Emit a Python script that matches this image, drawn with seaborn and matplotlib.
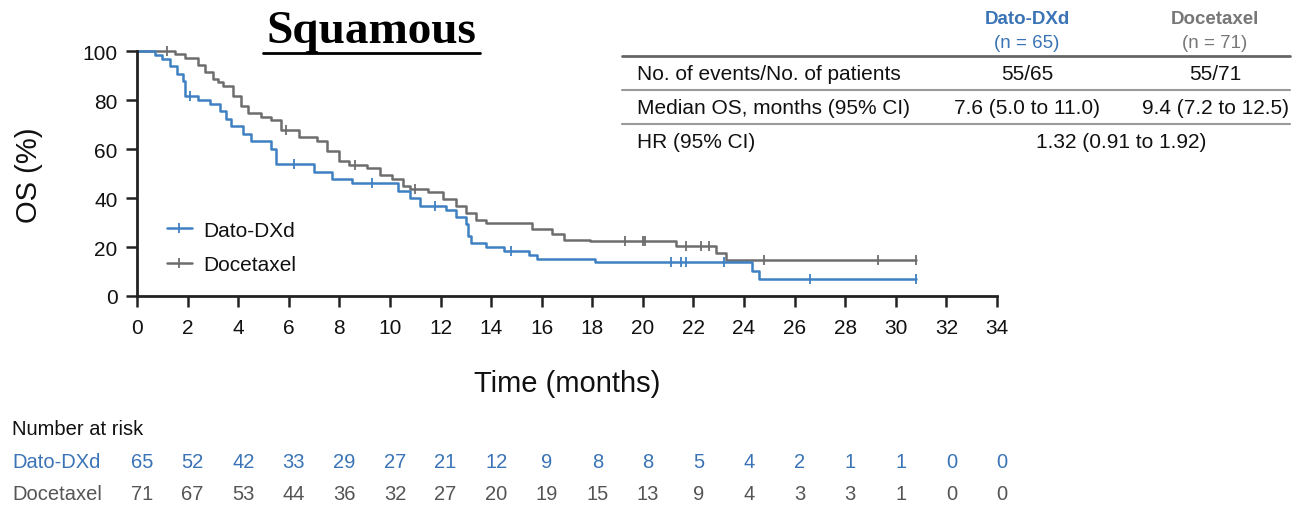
import matplotlib
matplotlib.use("Agg")
import matplotlib.pyplot as plt
import seaborn as sns
import pandas as pd
from matplotlib.lines import Line2D
from matplotlib.transforms import blended_transform_factory

# ---------------- data ----------------
dato_t = [0, 0.7, 1.0, 1.3, 1.6, 1.8, 1.9, 2.4, 2.9, 3.3, 3.5, 3.7, 4.2, 4.5, 5.3, 5.5,
          7.0, 7.7, 8.5, 10.3, 10.8, 11.2, 12.2, 12.6, 13.0, 13.1, 13.2, 13.8, 14.5,
          15.5, 15.8, 18.1, 24.3, 24.6, 30.8]
dato_s = [100, 98.5, 96.9, 93.8, 90.8, 87.7, 81.5, 80.0, 78.5, 75.4, 72.3, 69.2, 66.1, 63.1, 60.0, 54.0,
          50.8, 47.7, 46.2, 43.0, 40.0, 36.9, 35.3, 32.2, 29.2, 24.6, 21.5, 20.0, 18.4,
          16.9, 15.3, 13.8, 10.3, 6.9, 6.9]
dato_cens_t = [2.1, 6.2, 9.3, 11.8, 14.8, 21.1, 21.5, 21.7, 23.2, 26.6, 30.8]

doce_t = [0, 1.5, 1.9, 2.4, 2.7, 3.0, 3.2, 3.4, 3.8, 4.1, 4.4, 4.9, 5.3, 5.7, 6.4, 7.1, 7.5,
          8.0, 8.4, 9.1, 9.6, 10.1, 10.5, 10.8, 11.5, 12.1, 12.6, 13.0, 13.4, 13.8, 15.6,
          16.4, 16.9, 17.9, 21.3, 22.9, 23.3, 30.8]
doce_s = [100, 98.6, 97.2, 94.4, 91.5, 88.7, 87.3, 85.9, 81.7, 77.5, 74.6, 73.2, 71.8, 67.6, 64.8, 63.4, 59.2,
          54.9, 53.5, 52.1, 49.3, 47.9, 45.1, 43.7, 42.3, 39.5, 36.6, 33.8, 31.0, 29.6, 27.5,
          25.5, 23.0, 22.4, 20.6, 17.5, 14.7, 14.7]
doce_cens_t = [1.2, 5.9, 8.6, 11.0, 19.3, 20.0, 20.1, 21.7, 22.3, 22.6, 24.8, 29.3, 30.8]

risk_times = list(range(0, 35, 2))
risk_dato = [65, 52, 42, 33, 29, 27, 21, 12, 9, 8, 8, 5, 4, 2, 1, 1, 0, 0]
risk_doce = [71, 67, 53, 44, 36, 32, 27, 20, 19, 15, 13, 9, 4, 3, 3, 1, 0, 0]

x_ticks = list(range(0, 35, 2))
y_ticks = [0, 20, 40, 60, 80, 100]

table_header = ["Dato-DXd", "Docetaxel"]
table_n = ["(n = 65)", "(n = 71)"]
row_labels = ["No. of events/No. of patients", "Median OS, months (95% CI)", "HR (95% CI)"]
row_dato = ["55/65", "7.6 (5.0 to 11.0)"]
row_doce = ["55/71", "9.4 (7.2 to 12.5)"]
hr_text = "1.32 (0.91 to 1.92)"

BLUE = "#3f80c3"
BLUE_TXT = "#3a74b6"
GREY = "#6d6d6d"

# ---------------- figure ----------------
sns.set_theme(style="white")
plt.rcParams['font.family'] = ['Liberation Sans', 'DejaVu Sans']

W, H = 1296, 506
fig = plt.figure(figsize=(W / 100, H / 100), dpi=100)
ax = fig.add_axes([137 / W, 1 - 297 / H, (997 - 137) / W, (297 - 52) / H])


def step_at(ts, ss, t):
    val = ss[0]
    for a, b in zip(ts, ss):
        if a <= t:
            val = b
    return val


df_d = pd.DataFrame({"t": dato_t, "s": dato_s})
df_g = pd.DataFrame({"t": doce_t, "s": doce_s})
sns.lineplot(data=df_g, x="t", y="s", ax=ax, color=GREY, lw=1.8, drawstyle="steps-post",
             estimator=None, sort=False, clip_on=False)
sns.lineplot(data=df_d, x="t", y="s", ax=ax, color=BLUE, lw=1.8, drawstyle="steps-post",
             estimator=None, sort=False, clip_on=False)

cd = pd.DataFrame({"t": dato_cens_t, "s": [step_at(dato_t, dato_s, t) for t in dato_cens_t]})
cg = pd.DataFrame({"t": doce_cens_t, "s": [step_at(doce_t, doce_s, t) for t in doce_cens_t]})
sns.scatterplot(data=cg, x="t", y="s", ax=ax, marker="|", s=50, color=GREY, linewidth=1.3, clip_on=False)
sns.scatterplot(data=cd, x="t", y="s", ax=ax, marker="|", s=50, color=BLUE, linewidth=1.3, clip_on=False)

ax.set_xlim(0, 34)
ax.set_ylim(0, 100)
ax.set_xticks(x_ticks)
ax.set_yticks(y_ticks)
ax.set_xlabel("")
ax.set_ylabel("")
for sp in ["top", "right"]:
    ax.spines[sp].set_visible(False)
for sp in ["left", "bottom"]:
    ax.spines[sp].set_color("#222222")
    ax.spines[sp].set_linewidth(2.0)
ax.spines["left"].set_bounds(0, 100)
ax.tick_params(axis="both", direction="out", length=8, width=1.8, color="#222222",
               labelsize=15, labelcolor="#111111", bottom=True, left=True)
ax.tick_params(axis="x", pad=8)
ax.tick_params(axis="y", pad=6)
ax.grid(False)

# axis labels
fig.text(29 / W, 1 - 175 / H, "OS (%)", rotation=90, ha="center", va="center",
         fontsize=21, color="#111111")
fig.text(567 / W, 1 - 384 / H, "Time (months)", ha="center", va="center",
         fontsize=21, color="#111111")

# title
fig.text(371 / W, 1 - 32 / H, "Squamous", ha="center", va="center", fontsize=34,
         fontweight="bold", family=["Liberation Serif", "DejaVu Serif"], color="#000000")
fig.add_artist(Line2D([263 / W, 480 / W], [1 - 54 / H, 1 - 54 / H], transform=fig.transFigure,
                      color="black", lw=2.0))

# legend
handles = [Line2D([0], [0], color=BLUE, lw=1.8, marker="|", markersize=7, markeredgewidth=1.3),
           Line2D([0], [0], color=GREY, lw=1.8, marker="|", markersize=7, markeredgewidth=1.3)]
leg = ax.legend(handles, ["Dato-DXd", "Docetaxel"], loc="upper left",
                bbox_to_anchor=(148 / W, 1 - 203 / H), bbox_transform=fig.transFigure,
                frameon=False, handlelength=1.2, handletextpad=0.55, labelspacing=0.75,
                prop={"family": ["Liberation Sans", "DejaVu Sans"], "size": 15})
for t in leg.get_texts():
    t.set_color("#111111")

# table
tfont = {"family": ["Liberation Sans", "DejaVu Sans"], "size": 15}
col_x = [1027 / W, 1215 / W]
hdr_col = [BLUE_TXT, "#777777"]
for cx, h, n, c in zip(col_x, table_header, table_n, hdr_col):
    fig.text(cx, 1 - 19 / H, h, ha="center", va="center", color=c, fontweight="bold",
             family=["Liberation Sans", "DejaVu Sans"], size=13.5)
    fig.text(cx, 1 - 44 / H, n, ha="center", va="center", color=c,
             family=["Liberation Sans", "DejaVu Sans"], size=13.5)
for yy, lw, col in [(57, 2.0, "#666666"), (91, 1.5, "#999999"), (125, 1.5, "#999999")]:
    fig.add_artist(Line2D([622 / W, 1290 / W], [1 - yy / H, 1 - yy / H], transform=fig.transFigure,
                          color=col, lw=lw))
row_y = [75, 109, 143]
for ry, lab in zip(row_y, row_labels):
    fig.text(637 / W, 1 - ry / H, lab, ha="left", va="center", color="#111111", **tfont)
for ry, a, b in zip(row_y[:2], row_dato, row_doce):
    fig.text(col_x[0], 1 - ry / H, a, ha="center", va="center", color="#111111", **tfont)
    fig.text(col_x[1], 1 - ry / H, b, ha="center", va="center", color="#111111", **tfont)
fig.text(1121 / W, 1 - row_y[2] / H, hr_text, ha="center", va="center", color="#111111", **tfont)

# number at risk
rfont = {"family": ["Liberation Sans", "DejaVu Sans"], "size": 14.5}
fig.text(12 / W, 1 - 430 / H, "Number at risk", ha="left", va="center", color="#111111", **rfont)
fig.text(12 / W, 1 - 463 / H, "Dato-DXd", ha="left", va="center", color=BLUE_TXT, **rfont)
fig.text(12 / W, 1 - 495 / H, "Docetaxel", ha="left", va="center", color="#555555", **rfont)
trans = blended_transform_factory(ax.transData, fig.transFigure)
for t, a, b in zip(risk_times, risk_dato, risk_doce):
    ax.text(t + 0.2, 1 - 463 / H, str(a), transform=trans, ha="center", va="center",
            color=BLUE_TXT, clip_on=False, **rfont)
    ax.text(t + 0.2, 1 - 495 / H, str(b), transform=trans, ha="center", va="center",
            color="#555555", clip_on=False, **rfont)

fig.savefig("out.png", dpi=100, facecolor="white")
